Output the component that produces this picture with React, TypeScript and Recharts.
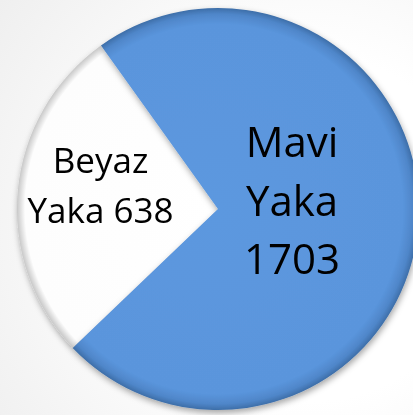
import { PieChart, Pie, Cell } from "recharts";

const categories = ["Beyaz Yaka", "Mavi Yaka"];
const values = [638, 1703];
const colors = ["url(#whiteFill)", "url(#blueFill)"];

const data = categories.map((name, i) => ({ name, value: values[i] }));

const RADIAN = Math.PI / 180;
const FONT = "'Open Sans', Lato, sans-serif";

const renderLabel = (props: any) => {
  const { cx, cy, midAngle, outerRadius, index, name, value } = props;
  const words = String(name).split(" ");
  if (index === 1) {
    const d = outerRadius * 0.37;
    const x = cx + d * Math.cos(-midAngle * RADIAN);
    const y = cy + d * Math.sin(-midAngle * RADIAN);
    const lines = [words[0], words[1], String(value)];
    return (
      <text x={x} textAnchor="middle" fill="#000" fontFamily={FONT} fontSize={42}>
        {lines.map((l, i) => (
          <tspan key={i} x={x} y={y + (i - 1) * 58.5}>
            {l}
          </tspan>
        ))}
      </text>
    );
  }
  const d = outerRadius * 0.587;
  const x = cx + d * Math.cos(-midAngle * RADIAN);
  const y = cy + d * Math.sin(-midAngle * RADIAN);
  const lines = [words[0], `${words[1]} ${value}`];
  return (
    <text x={x} textAnchor="middle" fill="#000" fontFamily={FONT} fontSize={35}>
      {lines.map((l, i) => (
        <tspan key={i} x={x} y={y + (i - 0.5) * 50}>
          {l}
        </tspan>
      ))}
    </text>
  );
};

export default function App() {
  return (
    <div
      style={{
        position: "fixed",
        left: 0,
        top: 0,
        width: 413,
        height: 415,
        background: "radial-gradient(circle at 75% 55%, #ffffff 45%, #efefef 100%)",
      }}
    >
      <PieChart width={413} height={415} margin={{ top: 0, right: 0, bottom: 0, left: 0 }}>
        <defs>
          <radialGradient id="blueFill" gradientUnits="userSpaceOnUse" cx={218} cy={209} r={201}>
            <stop offset="0%" stopColor="#5c98df" />
            <stop offset="92%" stopColor="#5a95dc" />
            <stop offset="97%" stopColor="#4f86c9" />
            <stop offset="100%" stopColor="#3d6ea8" />
          </radialGradient>
          <radialGradient id="whiteFill" gradientUnits="userSpaceOnUse" cx={218} cy={209} r={201}>
            <stop offset="0%" stopColor="#ffffff" />
            <stop offset="96%" stopColor="#fdfdfd" />
            <stop offset="100%" stopColor="#c8c8c8" />
          </radialGradient>
          <filter id="pieShadow" x="-10%" y="-10%" width="120%" height="125%">
            <feDropShadow dx={1} dy={3} stdDeviation={3} floodColor="#000" floodOpacity={0.35} />
          </filter>
        </defs>
        <Pie
          data={data}
          dataKey="value"
          nameKey="name"
          cx={218}
          cy={209}
          outerRadius={201}
          startAngle={125.6}
          endAngle={485.6}
          stroke="none"
          label={renderLabel}
          labelLine={false}
          isAnimationActive={false}
        >
          {data.map((d, i) => (
            <Cell key={d.name} fill={colors[i]} style={{ filter: "url(#pieShadow)" }} />
          ))}
        </Pie>
      </PieChart>
    </div>
  );
}
